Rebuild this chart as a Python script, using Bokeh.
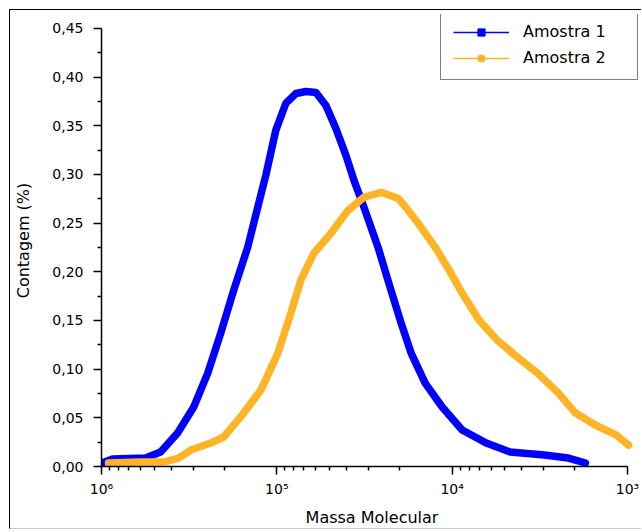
from bokeh.plotting import figure
from bokeh.models import (Range1d, FixedTicker, CustomJSTickFormatter, Legend, LegendItem,
                          ColumnDataSource)
from bokeh.embed import file_html
from bokeh.resources import INLINE

# ---- data ----
# log10 of molecular mass, and count (%)
amostra1_log = [6.000, 5.937, 5.749, 5.663, 5.566, 5.474, 5.394, 5.320, 5.246, 5.166,
                5.109, 5.063, 5.006, 4.949, 4.891, 4.834, 4.777, 4.720, 4.663, 4.606,
                4.560, 4.503, 4.423, 4.349, 4.291, 4.234, 4.154, 4.057, 3.943, 3.806,
                3.669, 3.474, 3.337, 3.240]
amostra1_val = [0.0036, 0.0077, 0.0087, 0.0149, 0.0344, 0.0611, 0.0960, 0.1370, 0.1811, 0.2253,
                0.2663, 0.2991, 0.3453, 0.3730, 0.3832, 0.3853, 0.3843, 0.3709, 0.3473, 0.3196,
                0.2940, 0.2663, 0.2253, 0.1811, 0.1473, 0.1165, 0.0857, 0.0611, 0.0375, 0.0241,
                0.0149, 0.0118, 0.0087, 0.0036]

amostra2_log = [5.960, 5.777, 5.646, 5.560, 5.491, 5.377, 5.303, 5.189, 5.091, 4.994,
                4.920, 4.863, 4.789, 4.691, 4.594, 4.503, 4.406, 4.309, 4.274, 4.194,
                4.097, 4.017, 3.943, 3.846, 3.743, 3.629, 3.514, 3.394, 3.297, 3.183,
                3.063, 2.994]
amostra2_val = [0.0036, 0.0046, 0.0046, 0.0087, 0.0169, 0.0241, 0.0303, 0.0549, 0.0785, 0.1165,
                0.1575, 0.1914, 0.2191, 0.2396, 0.2632, 0.2766, 0.2817, 0.2755, 0.2684, 0.2499,
                0.2253, 0.2017, 0.1781, 0.1503, 0.1298, 0.1124, 0.0960, 0.0754, 0.0549, 0.0426,
                0.0323, 0.0220]

series_names = ["Amostra 1", "Amostra 2"]
x_major = [1e3, 1e4, 1e5, 1e6]
y_major = [0.00, 0.05, 0.10, 0.15, 0.20, 0.25, 0.30, 0.35, 0.40, 0.45]

BLUE = "#0000FF"
ORANGE = "#FFB428"
FONT = "DejaVu Sans"

x1 = [10 ** v for v in amostra1_log]
x2 = [10 ** v for v in amostra2_log]

# frame is a bit larger than the axes (axes are bounded) so the legend fits inside
p = figure(width=632, height=520, x_axis_type="log",
           x_range=Range1d(1e6, 821.3), y_range=Range1d(0, 0.46437),
           output_backend="svg", toolbar_location=None,
           min_border_left=91, min_border_top=4, min_border_right=0, min_border_bottom=64)
p.styles = {"margin-left": "9px", "margin-top": "9px",
            "border-left": "1px solid #000000", "border-top": "1px solid #000000",
            "border-bottom": "1px solid #c8c8c8"}
p.outline_line_color = None
p.xgrid.visible = False
p.ygrid.visible = False
p.background_fill_color = "white"
p.border_fill_color = "white"

r1 = p.line(x1, amostra1_val, line_color=BLUE, line_width=7.5, line_join="round", line_cap="round")
r2 = p.line(x2, amostra2_val, line_color=ORANGE, line_width=7.5, line_join="round", line_cap="round")

# legend proxies (a single point outside the visible range)
proxy = ColumnDataSource(dict(x=[1e8], y=[-1.0]))
l1 = p.line("x", "y", source=proxy, line_color=BLUE, line_width=1.5)
m1 = p.scatter("x", "y", source=proxy, marker="square", size=9, fill_color=BLUE, line_color=BLUE)
l2 = p.line("x", "y", source=proxy, line_color=ORANGE, line_width=1.5)
m2 = p.scatter("x", "y", source=proxy, marker="circle", size=10, fill_color=ORANGE, line_color=ORANGE)

legend = Legend(items=[LegendItem(label=series_names[0], renderers=[l1, m1]),
                       LegendItem(label=series_names[1], renderers=[l2, m2])],
                location=(339, 386), margin=0, padding=12, spacing=7,
                glyph_width=56, glyph_height=18, label_height=18, label_width=102,
                label_standoff=14, label_text_font=FONT, label_text_font_size="16px",
                label_text_color="black",
                border_line_color="black", border_line_width=1.3,
                background_fill_color="white", background_fill_alpha=1.0)
p.add_layout(legend, "center")

# minor ticks
x_minor = [k * 10 ** e for e in range(3, 6) for k in range(2, 10)]
y_minor = [0.025 + 0.05 * i for i in range(9)]

xa = p.xaxis[0]
xa.ticker = FixedTicker(ticks=x_major, minor_ticks=x_minor)
xa.formatter = CustomJSTickFormatter(code="""
const sup = {'0':'\u2070','1':'\u00b9','2':'\u00b2','3':'\u00b3','4':'\u2074','5':'\u2075','6':'\u2076','7':'\u2077','8':'\u2078','9':'\u2079'};
const e = String(Math.round(Math.log10(tick)));
let s = '';
for (const c of e) { s += sup[c]; }
return '10' + s;
""")
xa.axis_label = "Massa Molecular"
xa.bounds = (1e3, 1e6)

ya = p.yaxis[0]
ya.ticker = FixedTicker(ticks=y_major, minor_ticks=y_minor)
ya.formatter = CustomJSTickFormatter(code="return tick.toFixed(2).replace('.', ',');")
ya.axis_label = "Contagem (%)"
ya.bounds = (0, 0.45)

for ax in (xa, ya):
    ax.axis_line_color = "black"
    ax.axis_line_width = 1.5
    ax.major_tick_line_color = "black"
    ax.major_tick_line_width = 1.5
    ax.minor_tick_line_color = "black"
    ax.minor_tick_line_width = 1.5
    ax.major_tick_out = 8
    ax.major_tick_in = 0
    ax.minor_tick_out = 4
    ax.minor_tick_in = 0
    ax.major_label_text_font = FONT
    ax.major_label_text_font_size = "14px"
    ax.major_label_text_color = "black"
    ax.axis_label_text_font = FONT
    ax.axis_label_text_font_size = "16px"
    ax.axis_label_text_font_style = "normal"
    ax.axis_label_text_color = "black"

xa.major_label_standoff = 6
xa.axis_label_standoff = 8
ya.major_label_standoff = 10
ya.axis_label_standoff = 16

open("out.html", "w").write(file_html(p, INLINE))
